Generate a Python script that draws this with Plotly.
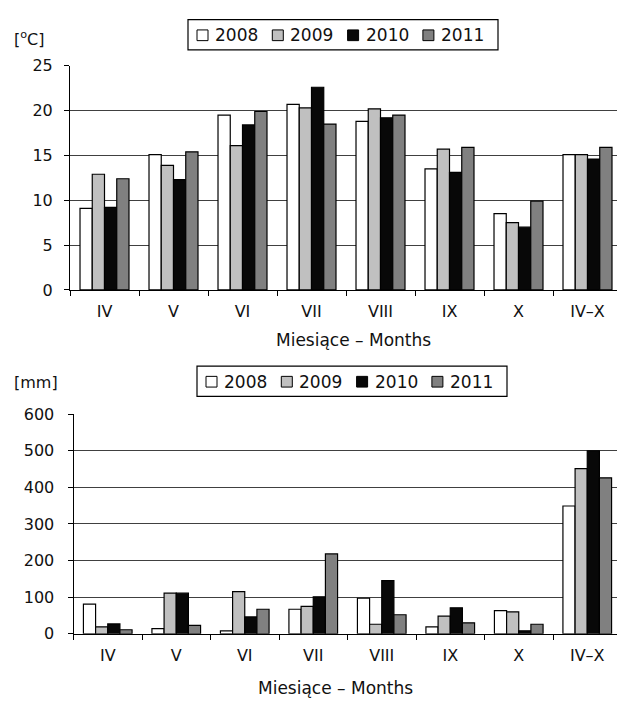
import plotly.graph_objects as go

months = ["IV", "V", "VI", "VII", "VIII", "IX", "X", "IV–X"]
years = ["2008", "2009", "2010", "2011"]

temp_2008 = [9.1, 15.1, 19.5, 20.7, 18.8, 13.5, 8.5, 15.1]
temp_2009 = [12.9, 13.9, 16.1, 20.3, 20.2, 15.7, 7.5, 15.1]
temp_2010 = [9.2, 12.3, 18.4, 22.6, 19.2, 13.1, 7.0, 14.6]
temp_2011 = [12.4, 15.4, 19.9, 18.5, 19.5, 15.9, 9.9, 15.9]

precip_2008 = [81, 14, 8, 67, 97, 19, 63, 349]
precip_2009 = [19, 111, 115, 75, 26, 48, 60, 451]
precip_2010 = [27, 111, 46, 101, 145, 71, 8, 500]
precip_2011 = [11, 23, 67, 218, 52, 30, 26, 426]

colors = ["#ffffff", "#c0c0c0", "#080808", "#808080"]
x_title = "Miesiące – Months"

W, H = 617, 708
FONT = "DejaVu Sans"


def px(x):
    return x / W


def py(y):
    return 1 - y / H


fig = go.Figure()

temps = [temp_2008, temp_2009, temp_2010, temp_2011]
precs = [precip_2008, precip_2009, precip_2010, precip_2011]

for yr, vals, c in zip(years, temps, colors):
    fig.add_trace(go.Bar(x=months, y=vals, name=yr, marker=dict(color=c, line=dict(color="#000000", width=1.2)),
                         xaxis="x", yaxis="y", showlegend=False))
for yr, vals, c in zip(years, precs, colors):
    fig.add_trace(go.Bar(x=months, y=vals, name=yr, marker=dict(color=c, line=dict(color="#000000", width=1.2)),
                         xaxis="x2", yaxis="y2", showlegend=False))

axis_common_x = dict(type="category", showline=True, linecolor="#000000", linewidth=1,
                     ticks="outside", ticklen=5, tickcolor="#000000", tickson="boundaries",
                     showgrid=False, zeroline=False,
                     tickfont=dict(family=FONT, size=16, color="#111111"), ticklabelstandoff=7)
axis_common_y = dict(showline=True, linecolor="#000000", linewidth=1,
                     ticks="outside", ticklen=5, tickcolor="#000000",
                     showgrid=True, gridcolor="#404040", gridwidth=1, zeroline=False,
                     tickfont=dict(family=FONT, size=16, color="#111111"))

# top chart: left axis 70px, category width 69px
top_left = 70
top_step = 69.0
bot_left = 73.5
bot_step = 68.5

fig.update_layout(
    width=W, height=H,
    margin=dict(l=0, r=0, t=0, b=0),
    paper_bgcolor="white", plot_bgcolor="white",
    barmode="group", bargap=0.29, bargroupgap=0,
    xaxis=dict(axis_common_x, domain=[px(top_left), 1], anchor="y",
               range=[-0.5, -0.5 + (W - top_left) / top_step]),
    yaxis=dict(axis_common_y, domain=[py(288.7), py(58.3)], anchor="x",
               range=[0, 25], dtick=5, ticklabelstandoff=8),
    xaxis2=dict(axis_common_x, domain=[px(bot_left), 1], anchor="y2",
                range=[-0.5, -0.5 + (W - bot_left) / bot_step]),
    yaxis2=dict(axis_common_y, domain=[py(642), py(416.3)], anchor="x2",
                range=[0, 600], dtick=100, ticklabelstandoff=10),
    showlegend=False,
)

annotations = []
shapes = []

# axis titles and units
annotations.append(dict(text=x_title, x=px(353), y=py(340), xref="paper", yref="paper",
                        showarrow=False, font=dict(family=FONT, size=17, color="#111111"),
                        xanchor="center", yanchor="middle"))
annotations.append(dict(text=x_title, x=px(335), y=py(698), xref="paper", yref="paper",
                        showarrow=False, font=dict(family=FONT, size=17, color="#111111"),
                        xanchor="center", yanchor="middle"))
annotations.append(dict(text="[<sup>o</sup>C]", x=px(12), y=py(30), xref="paper", yref="paper",
                        showarrow=False, font=dict(family=FONT, size=16, color="#111111"),
                        xanchor="left", yanchor="middle"))
annotations.append(dict(text="[mm]", x=px(12), y=py(384), xref="paper", yref="paper",
                        showarrow=False, font=dict(family=FONT, size=16, color="#111111"),
                        xanchor="left", yanchor="middle"))


def add_legend(x0, y0):
    # box
    shapes.append(dict(type="rect", xref="paper", yref="paper",
                       x0=px(x0), x1=px(x0 + 310), y0=py(y0 + 31), y1=py(y0),
                       line=dict(color="#000000", width=1.2), fillcolor="white"))
    cy = y0 + 16
    for i, (yr, c) in enumerate(zip(years, colors)):
        sx = x0 + 9 + i * 75.3
        shapes.append(dict(type="rect", xref="paper", yref="paper",
                           x0=px(sx), x1=px(sx + 11), y0=py(cy + 5.5), y1=py(cy - 5.5),
                           line=dict(color="#000000", width=1), fillcolor=c))
        annotations.append(dict(text=yr, x=px(sx + 16), y=py(cy), xref="paper", yref="paper",
                                showarrow=False, font=dict(family=FONT, size=17, color="#111111"),
                                xanchor="left", yanchor="middle"))


add_legend(188, 11)
add_legend(197, 367)

fig.update_layout(annotations=annotations, shapes=shapes)

fig.write_html("out.html", config={"displayModeBar": False},
               post_script="document.body.style.margin='0';document.body.style.overflow='hidden';")
